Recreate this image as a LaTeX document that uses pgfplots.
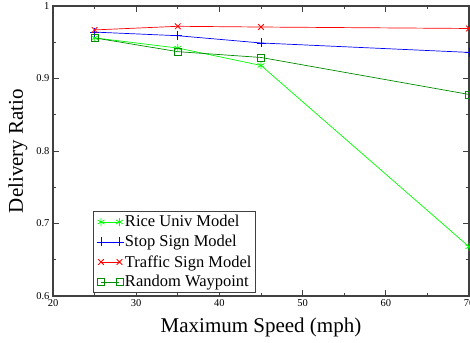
\documentclass[border=0pt]{standalone}
\usepackage{pgfplots}
\pgfplotsset{compat=1.18}
\usepackage{fontspec}
\setmainfont{Liberation Serif}
\definecolor{rgreen}{RGB}{0,255,0}
\definecolor{dgreen}{RGB}{0,140,0}
\begin{document}
\begin{tikzpicture}
\begin{axis}[
  name=ax,
  scale only axis,
  width=416pt, height=290pt,
  xmin=20, xmax=70, ymin=0.6, ymax=1,
  xtick={20,30,...,70}, minor xtick={25,35,...,65},
  ytick={0.6,0.7,0.8,0.9,1}, minor ytick={0.65,0.75,0.85,0.95},
  tick align=inside,
  major tick length=6pt, minor tick length=3pt,
  tick style={black!75, line width=0.8pt},
  axis line style={black!75, line width=1.2pt},
  /pgf/number format/assume math mode=true,
  ticklabel style={font=\fontsize{10.5}{12}\selectfont},
  yticklabel style={/pgf/number format/fixed},
  xlabel={Maximum Speed (mph)},
  ylabel={Delivery Ratio},
  label style={font=\fontsize{21}{24}\selectfont},
  xlabel style={yshift=-4pt},
  ylabel style={yshift=2pt},
  legend style={at={(40pt,3pt)}, anchor=south west, draw=black!75, line width=1pt,
    font=\fontsize{16.5}{18}\selectfont, row sep=5pt, inner sep=3pt,
    nodes={inner sep=1pt}},
  legend cell align=left,
  legend image code/.code={\draw[#1, line width=0.7pt] (0cm,0cm) -- (0.65cm,0cm);
    \draw[#1, only marks] plot coordinates {(0cm,0cm)(0.65cm,0cm)};},
]
\addplot[rgreen, line width=0.7pt, mark=asterisk, mark size=4pt, mark options={rgreen, line width=0.7pt}] coordinates {(25,0.956)(35,0.942)(45,0.918)(70,0.668)};
\addlegendentry{Rice Univ Model}
\addplot[blue, line width=0.7pt, mark=+, mark size=4.5pt, mark options={blue, line width=0.9pt}] coordinates {(25,0.964)(35,0.959)(45,0.949)(70,0.936)};
\addlegendentry{Stop Sign Model}
\addplot[red, line width=0.7pt, mark=x, mark size=4pt, mark options={red, line width=0.8pt}] coordinates {(25,0.967)(35,0.972)(45,0.971)(70,0.969)};
\addlegendentry{Traffic Sign Model}
\addplot[dgreen, line width=0.7pt, mark=square, mark size=3.5pt, mark options={dgreen, line width=0.8pt}] coordinates {(25,0.956)(35,0.937)(45,0.929)(70,0.878)};
\addlegendentry{Random Waypoint}
\end{axis}
\pgfresetboundingbox
\path ([xshift=-53pt,yshift=-47pt]ax.south west) rectangle ([xshift=1pt,yshift=6pt]ax.north east);
\end{tikzpicture}
\end{document}
